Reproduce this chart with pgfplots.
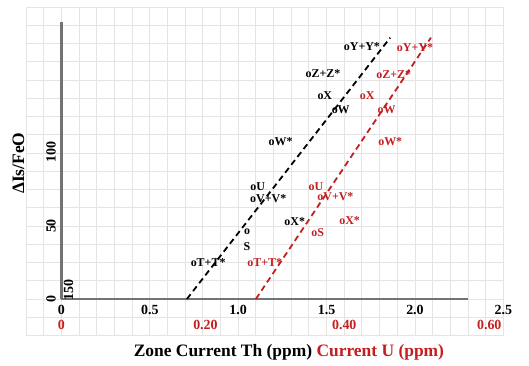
\documentclass[border=0pt]{standalone}
\usepackage{pgfplots}
\pgfplotsset{compat=1.18}
\usepackage{fontspec}
\setmainfont{Liberation Serif}
\definecolor{myred}{RGB}{196,30,30}
\definecolor{axgray}{RGB}{115,115,115}
\definecolor{gridgray}{RGB}{228,228,228}
\begin{document}
\begin{tikzpicture}
\begin{axis}[
  scale only axis,
  width=477.4bp, height=328.5bp,
  xmin=-0.2, xmax=2.5, ymin=-25, ymax=200,
  xtick distance=0.1, ytick distance=12.5,
  xticklabels={}, yticklabels={},
  major tick length=0pt,
  grid=major,
  grid style={gridgray, line width=0.9bp},
  axis line style={gridgray, line width=0.9bp},
  clip=false,
  every node near coord/.append style={anchor=center, font=\bfseries\fontsize{12}{12}\selectfont},
]
% main axis lines
\addplot[axgray, line width=2.5bp] coordinates {(0,0) (2.30,0)};
\addplot[axgray, line width=2.5bp] coordinates {(0,0) (0,190)};
% dashed trend lines
\addplot[black, line width=1.8bp, dash pattern=on 6bp off 4bp] coordinates {(0.71,0) (1.86,179)};
\addplot[myred, line width=1.8bp, dash pattern=on 6bp off 4bp] coordinates {(1.10,0) (2.09,179)};
% black labels
\addplot[draw=none, mark=none, nodes near coords, point meta=explicit symbolic,
  every node near coord/.append style={text=black}] coordinates {
  (1.70,173) [oY+Y*]
  (1.48,154.5) [oZ+Z*]
  (1.49,139) [oX]
  (1.58,130) [oW]
  (1.24,108) [oW*]
  (1.11,77) [oU]
  (1.17,69) [oV+V*]
  (1.32,53) [oX*]
  (1.05,46) [o]
  (1.05,36) [S]
  (0.83,25) [oT+T*]
};
% red labels
\addplot[draw=none, mark=none, nodes near coords, point meta=explicit symbolic,
  every node near coord/.append style={text=myred}] coordinates {
  (2.00,172) [oY+Y*]
  (1.88,154) [oZ+Z*]
  (1.73,139) [oX]
  (1.84,130) [oW]
  (1.86,108) [oW*]
  (1.44,77) [oU]
  (1.55,70) [oV+V*]
  (1.63,54) [oX*]
  (1.45,45.5) [oS]
  (1.15,25) [oT+T*]
};
% tick labels
\begin{scope}[font=\bfseries\fontsize{14}{14}\selectfont]
\node at (axis cs:0,-7.5) {0};
\node at (axis cs:0.5,-7.5) {0.5};
\node at (axis cs:1.0,-7.5) {1.0};
\node at (axis cs:1.5,-7.5) {1.5};
\node at (axis cs:2.0,-7.5) {2.0};
\node at (axis cs:2.5,-7.5) {2.5};
\node[text=myred] at (axis cs:0,-17.8) {0};
\node[text=myred] at (axis cs:0.815,-17.8) {0.20};
\node[text=myred] at (axis cs:1.60,-17.8) {0.40};
\node[text=myred] at (axis cs:2.42,-17.8) {0.60};
\node[rotate=90] at (axis cs:-0.058,0) {0};
\node[rotate=90] at (axis cs:-0.058,50) {50};
\node[rotate=90] at (axis cs:-0.058,101) {100};
\node[rotate=90] at (axis cs:0.04,6) {150};
\end{scope}
% axis titles
\node[rotate=90, font=\bfseries\fontsize{17.5}{17.5}\selectfont] at (axis cs:-0.243,93) {ΔIs/FeO};
\node[font=\bfseries\fontsize{17.5}{17.5}\selectfont] at (axis cs:1.287,-36.3) {Zone Current Th (ppm) \textcolor{myred}{Current U (ppm)}};
\end{axis}
\pgfresetboundingbox
\useasboundingbox (-26bp,-30.5bp) rectangle (503bp,335.5bp);
\end{tikzpicture}
\end{document}
